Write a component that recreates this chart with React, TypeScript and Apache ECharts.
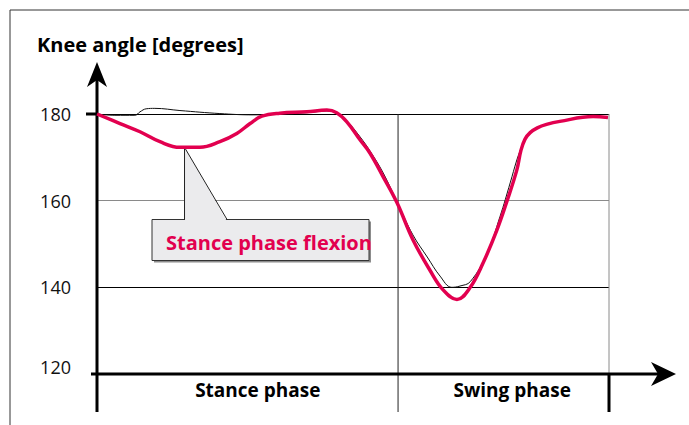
import React, { useEffect, useRef } from "react";
import * as echarts from "echarts";

// Gait cycle (% of stride) and knee angle (degrees)
const measuredX = [0, 4.5, 8.4, 12.3, 16.2, 20.1, 24.0, 27.3, 29.9, 32.2, 35.7, 41.0, 44.9, 46.8, 48.8, 51.4, 53.3, 55.9, 58.6, 61.7, 65.0, 67.6, 70.3, 72.9, 75.4, 78.1, 80.1, 82.0, 82.8, 83.6, 84.6, 86.0, 87.8, 90.4, 96.9, 99.8];
const measuredY = [180, 177.8, 175.9, 173.6, 172.3, 172.3, 173.6, 175.5, 177.8, 179.5, 180.2, 180.5, 180.9, 180.3, 178.2, 174.0, 171.0, 165.5, 159.5, 151.0, 144.0, 139.4, 137.2, 140.0, 145.6, 153.2, 160.0, 167.1, 171.6, 174.2, 175.7, 176.8, 177.6, 178.3, 179.4, 179.2];

const normalX = [0, 3.5, 7.4, 8.4, 9.6, 11.3, 16.2, 24.0, 30.5, 35.7, 41.0, 44.9, 46.9, 48.8, 51.4, 53.3, 55.9, 58.6, 61.7, 64.5, 67.0, 69.3, 70.9, 72.9, 76.2, 78.7, 80.7, 82.0, 82.8, 83.6, 84.6, 86.0, 87.8, 90.4, 96.9, 99.8];
const normalY = [180, 179.7, 179.7, 180.5, 181.2, 181.3, 180.8, 180.1, 179.8, 180.0, 180.3, 180.7, 180.2, 178.4, 174.7, 171.5, 166.4, 159.7, 152.1, 147.0, 142.6, 140.0, 140.3, 141.3, 147.9, 156.3, 164.1, 169.4, 172.0, 174.2, 175.7, 176.8, 177.6, 178.3, 179.4, 179.2];

const yTicks = [120, 140, 160, 180];
const phaseEnd = 58.8; // stance / swing boundary (% of cycle)
const phaseLabels = ["Stance phase", "Swing phase"];
const phaseLabelX = [31.4, 81.1];
const annotationText = "Stance phase flexion";
const annotationPoint = [16.8, 172.3];
const yTitle = "Knee angle [degrees]";

const RED = "#e2004f";
const FONT = "'Open Sans', sans-serif";

export default function App() {
  const ref = useRef<HTMLDivElement>(null);
  useEffect(() => {
    if (!ref.current) return;
    const chart = echarts.init(ref.current, undefined, { renderer: "svg" });
    chart.setOption({
      animation: false,
      backgroundColor: "#ffffff",
      grid: { left: 97, right: 80, top: 114, bottom: 51 },
      xAxis: {
        type: "value",
        min: 0,
        max: 100,
        axisLine: { show: false },
        axisTick: { show: false },
        axisLabel: { show: false },
        splitLine: { show: false },
      },
      yAxis: {
        type: "value",
        min: yTicks[0],
        max: yTicks[yTicks.length - 1],
        interval: 20,
        axisLine: { show: false },
        axisTick: { show: false },
        axisLabel: {
          margin: 26,
          fontSize: 18,
          color: "#111",
          fontFamily: FONT,
          formatter: (v: number) => (v === yTicks[0] ? "{low|" + v + "}" : String(v)),
          rich: { low: { fontSize: 18, color: "#111", fontFamily: FONT, padding: [0, 0, 15, 0] } },
        },
        splitLine: {
          show: true,
          lineStyle: { color: ["#000", "#000", "#8a8a8a", "#000"], width: 1 },
        },
      },
      series: [
        {
          type: "line",
          data: normalX.map((x, i) => [x, normalY[i]]),
          smooth: 0.4,
          clip: false,
          symbol: "none",
          lineStyle: { color: "#111", width: 1 },
          z: 2,
        },
        {
          type: "line",
          data: measuredX.map((x, i) => [x, measuredY[i]]),
          smooth: 0.4,
          clip: false,
          symbol: "none",
          lineStyle: { color: RED, width: 3.5 },
          z: 3,
        },
      ],
    });

    const px = (x: number, y: number) => chart.convertToPixel({ gridIndex: 0 }, [x, y]) as number[];
    const [x0, yTop] = px(0, 180);
    const [x100, yBot] = px(100, 120);
    const [xDiv] = px(phaseEnd, 180);
    const tip = px(annotationPoint[0], annotationPoint[1]);
    const tickBottom = yBot + 38;
    const black = { stroke: "#000", lineWidth: 3 };

    const boxX = 152, boxY = 219.5, boxW = 217, boxH = 41;
    const ptrL = tip[0] + 1.5, ptrR = tip[0] + 44;

    chart.setOption({
      graphic: [
        // frame
        { type: "line", shape: { x1: 10, y1: 10, x2: 689, y2: 10 }, style: { stroke: "#333", lineWidth: 1 } },
        { type: "line", shape: { x1: 10, y1: 10, x2: 10, y2: 425 }, style: { stroke: "#333", lineWidth: 1 } },
        // vertical guide lines
        { type: "line", shape: { x1: xDiv, y1: yTop, x2: xDiv, y2: tickBottom }, style: { stroke: "#222", lineWidth: 1 } },
        { type: "line", shape: { x1: x100, y1: yTop, x2: x100, y2: yBot }, style: { stroke: "#8a8a8a", lineWidth: 1 } },
        { type: "line", shape: { x1: x100, y1: yBot, x2: x100, y2: tickBottom }, style: black },
        // y axis with arrow
        { type: "line", shape: { x1: x0, y1: tickBottom, x2: x0, y2: 78 }, style: black },
        { type: "polygon", shape: { points: [[x0, 62], [x0 - 10, 87], [x0, 80], [x0 + 10, 87]] }, style: { fill: "#000" } },
        { type: "line", shape: { x1: x0 - 11, y1: yTop, x2: x0, y2: yTop }, style: black },
        // x axis with arrow
        { type: "line", shape: { x1: x0 - 6, y1: yBot, x2: 660, y2: yBot }, style: black },
        { type: "polygon", shape: { points: [[676, yBot], [651, yBot - 12], [658, yBot], [651, yBot + 12]] }, style: { fill: "#000" } },
        // titles
        {
          type: "text", x: 37, y: 44,
          style: { text: yTitle, fontSize: 20, fontWeight: "bold", fontFamily: FONT, fill: "#000", verticalAlign: "middle" },
        },
        ...phaseLabels.map((t, i) => ({
          type: "text", x: px(phaseLabelX[i], 120)[0], y: 390,
          style: { text: t, fontSize: 19, fontWeight: "bold", fontFamily: FONT, fill: "#000", align: "center", verticalAlign: "middle" },
        })),
        // callout
        { type: "rect", shape: { x: boxX + 2, y: boxY + 2, width: boxW, height: boxH }, style: { fill: "#8c8c8c" } },
        { type: "rect", shape: { x: boxX, y: boxY, width: boxW, height: boxH }, style: { fill: "#ebebed", stroke: "#333", lineWidth: 1 } },
        { type: "polygon", shape: { points: [[ptrL, tip[1]], [ptrL + 0.5, boxY + 1], [ptrR - 0.5, boxY + 1]] }, style: { fill: "#ebebed" } },
        { type: "polyline", shape: { points: [[ptrL, boxY], [ptrL, tip[1]], [ptrR, boxY]] }, style: { stroke: "#222", lineWidth: 1, fill: null } },
        {
          type: "text", x: 166, y: 242,
          style: { text: annotationText, fontSize: 20, fontWeight: "bold", fontFamily: FONT, fill: RED, verticalAlign: "middle" },
        },
      ],
    });
    return () => chart.dispose();
  }, []);
  return <div ref={ref} style={{ position: "fixed", left: 0, top: 0, width: 689, height: 425 }} />;
}
